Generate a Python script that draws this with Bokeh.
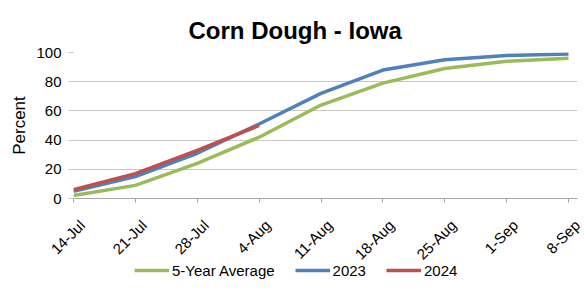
from bokeh.plotting import figure
from bokeh.models import Range1d, FixedTicker, Legend, LegendItem, LinearAxis
from bokeh.embed import file_html
from bokeh.resources import INLINE
import math

weeks = ["14-Jul", "21-Jul", "28-Jul", "4-Aug", "11-Aug", "18-Aug", "25-Aug", "1-Sep", "8-Sep"]
avg5 = [2, 9, 24, 42, 64, 79, 89, 94, 96]
y2023 = [5, 15, 31, 51, 72, 88, 95, 98, 99]
y2024 = [6, 17, 33, 50]

FONT = "Liberation Sans"
XMAX = 8.145
SHIFT = 0.14

p = figure(frame_width=504, frame_height=146, output_backend="svg", toolbar_location=None,
           x_range=Range1d(0, XMAX), y_range=Range1d(0, 100),
           min_border_left=73, min_border_right=7, min_border_top=52, min_border_bottom=10)
p.outline_line_color = None

p.title.text = "Corn Dough - Iowa"
p.title.text_font = FONT
p.title.text_font_size = "24px"
p.title.text_font_style = "bold"
p.title.text_color = "#000000"
p.title.align = "left"
p.title.offset = 115
p.title.standoff = 18

xs = list(range(len(weeks)))
r1 = p.line(xs, avg5, line_color="#9BBB59", line_width=3.5, line_join="round")
r2 = p.line(xs, y2023, line_color="#4F81BD", line_width=3.5, line_join="round")
r3 = p.line(xs[:len(y2024)], y2024, line_color="#C0504D", line_width=3.5, line_join="round")

xa = p.xaxis[0]
xa.ticker = FixedTicker(ticks=xs)
xa.major_label_overrides = {i: "" for i in xs}
xa.major_label_text_font_size = "1px"
xa.major_label_text_color = None
xa.major_label_standoff = 0
xa.axis_line_color = "#a6a6a6"
xa.major_tick_line_color = "#a6a6a6"
xa.major_tick_in = 0
xa.major_tick_out = 4
xa.minor_tick_line_color = None

# label axis, offset slightly right like the reference's rotated labels
p.extra_x_ranges = {"lab": Range1d(-SHIFT, XMAX - SHIFT)}
la = LinearAxis(x_range_name="lab", ticker=FixedTicker(ticks=xs))
la.major_label_overrides = {i: w for i, w in enumerate(weeks)}
la.major_label_orientation = math.pi / 4
la.major_label_text_font = FONT
la.major_label_text_font_size = "15px"
la.major_label_text_color = "#000000"
la.axis_line_color = None
la.major_tick_line_color = None
la.minor_tick_line_color = None
la.major_tick_out = 0
la.major_tick_in = 0
la.major_label_standoff = 20
p.add_layout(la, "below")

ya = p.yaxis[0]
ya.ticker = FixedTicker(ticks=[0, 20, 40, 60, 80, 100])
ya.axis_line_color = None
ya.major_tick_line_color = "#c8c8c8"
ya.major_tick_in = 0
ya.major_tick_out = 5
ya.minor_tick_line_color = None
ya.major_label_text_font = FONT
ya.major_label_text_font_size = "15px"
ya.major_label_text_color = "#000000"
ya.major_label_standoff = 7
ya.axis_label = "Percent"
ya.axis_label_text_font = FONT
ya.axis_label_text_font_size = "17px"
ya.axis_label_text_font_style = "normal"
ya.axis_label_text_color = "#000000"
ya.axis_label_standoff = 4

p.xgrid.grid_line_color = None
p.ygrid.grid_line_color = "#c8c8c8"
p.ygrid.grid_line_width = 1

# legend in the right panel (aligned with the frame), positioned below the chart
legend = Legend(items=[LegendItem(label="5-Year Average", renderers=[r1]),
                       LegendItem(label="2023", renderers=[r2]),
                       LegendItem(label="2024", renderers=[r3])],
                orientation="horizontal", location=(-443, -82),
                label_text_font=FONT, label_text_font_size="15px",
                label_text_color="#000000",
                glyph_width=35, label_standoff=3, spacing=20,
                padding=0, margin=0, border_line_color=None,
                background_fill_alpha=0)
p.add_layout(legend, "right")

open("out.html", "w").write(file_html(p, INLINE))
